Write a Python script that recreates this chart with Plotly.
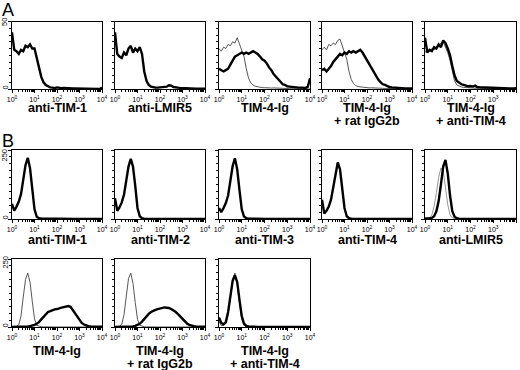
import plotly.graph_objects as go

# ---------------- data (x in decades: 10^d) ----------------
DECADES = [0.0, 0.1, 0.2, 0.3, 0.4, 0.5, 0.6, 0.7, 0.8, 0.9,
           1.0, 1.1, 1.2, 1.3, 1.4, 1.5, 1.6, 1.7, 1.8, 1.9,
           2.0, 2.1, 2.2, 2.3, 2.4, 2.5, 2.6, 2.7, 2.8, 2.9,
           3.0, 3.1, 3.2, 3.3, 3.4, 3.5, 3.6, 3.7, 3.8, 3.9, 4.0]

# Panel A (counts 0-50)
A1_THICK = [42, 29, 28, 26, 29, 28, 32, 31, 33, 30, 30, 24, 16, 9, 5, 3, 1.8, 1.2, 1, 0.7,
            1.2, 0.8, 0.6, 0.8, 0.6, 0.5, 0.6, 0.4, 0.5, 0.4, 0.3, 0.2, 0.1, 0, 0, 0, 0, 0, 0, 0, 1]
A2_THICK = [42, 26, 24, 23, 27, 25, 30, 32, 27, 30, 28, 31, 26, 13, 6, 3, 1.8, 1.2, 1, 1,
            1.2, 1, 1.3, 1.8, 2.8, 2.5, 1.5, 1.5, 1, 0.8, 0.8, 0.6, 0.5, 0.6, 0.4, 0.8, 0.3, 0.2, 0.2, 0.1, 0.3]
A3_THIN = [30, 28, 31, 30, 33, 32, 35, 34, 38, 33, 29, 24, 15, 8, 4.5, 2.8, 2, 1.5, 1.2, 1,
           1, 0.8, 0.8, 0.7, 0.8, 0.8, 0.6, 0.5, 0.5, 0.4, 0.3, 0.3, 0.2, 0.2, 0.1, 0, 0, 0, 0, 0, 0]
A3_THICK = [15, 14, 13, 14, 15, 18, 21, 24, 25, 26, 27, 26, 27, 26, 27, 28, 27, 26, 24, 22,
            21, 19, 16, 14, 11, 9, 7, 5, 3.5, 3, 2, 1.8, 1.5, 1.5, 1.2, 1, 1, 0.8, 0.8, 1.5, 8]
A4_THIN = [29, 31, 29, 33, 32, 34, 33, 36, 37, 32, 28, 22, 13, 7, 4, 2.5, 1.8, 1.5, 1.2, 1,
           1, 0.8, 0.9, 0.7, 0.7, 0.6, 0.6, 0.5, 0.4, 0.4, 0.3, 0.2, 0.2, 0.1, 0.1, 0, 0, 0, 0, 0, 0]
A4_THICK = [14, 15, 13, 15, 17, 20, 22, 24, 26, 25, 27, 26, 28, 27, 28, 27, 28, 29, 27, 24,
            21, 18, 15, 12, 9, 7, 5, 3.5, 3, 2, 1.5, 1.2, 1, 0.8, 0.7, 0.6, 0.5, 0.5, 0.4, 0.3, 0.5]
A5_THIN = [27, 29, 28, 30, 29, 31, 32, 34, 35, 31, 27, 21, 13, 6, 3, 2, 1.5, 1.2, 1, 0.8,
           0.8, 0.7, 0.6, 0.6, 0.5, 0.5, 0.4, 0.4, 0.3, 0.3, 0.3, 0.2, 0.2, 0.2, 0.1, 0.1, 0.1, 0.1, 0, 0, 0]
A5_THICK = [38, 27, 29, 28, 31, 30, 33, 31, 36, 34, 30, 25, 17, 10, 6, 4.5, 3.5, 3, 2.5, 2,
            2.2, 1.8, 2.5, 1.5, 1.3, 1.2, 1, 1, 0.9, 0.8, 0.7, 0.8, 0.6, 0.6, 0.5, 0.6, 0.5, 0.5, 0.4, 0.5, 0.6]

# Panel B (counts 0-250)
B1_THICK = [55, 30, 45, 62, 90, 140, 195, 222, 185, 110, 35, 8, 3, 2, 1.5, 1, 1, 1.5, 1, 1,
            1.5, 1, 1, 0.8, 0.5, 0.5, 0.3, 0, 0, 0, 0, 0, 0, 0, 0, 0, 0, 0, 0, 0, 0]
B2_THICK = [75, 30, 42, 60, 88, 135, 190, 218, 190, 120, 40, 10, 3, 1.5, 1, 1, 1, 0.8, 1, 0.8,
            0.5, 0.5, 0.5, 0.3, 0.3, 0.2, 0, 0, 0, 0, 0, 0, 0, 0, 0, 0, 0, 0, 0, 0, 0]
B3_THICK = [40, 25, 40, 58, 85, 135, 192, 220, 180, 105, 35, 9, 3, 1.5, 1, 1, 0.8, 0.8, 0.5, 0.5,
            0.3, 0.3, 0.2, 0, 0, 0, 0, 0, 0, 0, 0, 0, 0, 0, 0, 0, 0, 0, 0, 0, 0]
B4_THICK = [70, 20, 30, 45, 70, 115, 170, 205, 180, 110, 40, 10, 3, 1.5, 1, 0.8, 0.8, 0.5, 0.5, 0.3,
            0.3, 0.2, 0, 0, 0, 0, 0, 0, 0, 0, 0, 0, 0, 0, 0, 0, 0, 0, 0, 0, 0]
B5_THIN = [1, 2, 5, 15, 45, 95, 150, 185, 172, 115, 52, 15, 4, 1.5, 0.5, 0, 0, 0, 0, 0,
           0, 0, 0, 0, 0, 0, 0, 0, 0, 0, 0, 0, 0, 0, 0, 0, 0, 0, 0, 0, 0]
B5_THICK = [2, 1, 2, 4, 10, 28, 65, 125, 190, 214, 165, 85, 28, 8, 3, 1.5, 1, 0.8, 0.5, 0.5,
            0.3, 0, 0, 0, 0, 0, 0, 0, 0, 0, 0, 0, 0, 0, 0, 0, 0, 0, 0, 0, 0]
B6_THIN = [2, 1, 2, 8, 40, 110, 175, 198, 165, 95, 30, 6, 2, 1, 0.5, 0, 0, 0, 0, 0,
           0, 0, 0, 0, 0, 0, 0, 0, 0, 0, 0, 0, 0, 0, 0, 0, 0, 0, 0, 0, 0]
B6_THICK = [0, 0, 0, 0, 0, 0, 1, 2, 3, 5, 8, 12, 18, 28, 38, 48, 55, 58, 62, 65,
            66, 70, 71, 73, 76, 77, 74, 62, 48, 35, 24, 15, 9, 5, 3, 2, 2, 1.5, 1, 1, 1]
B7_THIN = [2, 1, 3, 10, 45, 115, 178, 198, 160, 90, 28, 6, 2, 1, 0.5, 0, 0, 0, 0, 0,
           0, 0, 0, 0, 0, 0, 0, 0, 0, 0, 0, 0, 0, 0, 0, 0, 0, 0, 0, 0, 0]
B7_THICK = [0, 0, 0, 0, 0, 0, 0, 1, 2, 4, 7, 12, 20, 30, 40, 48, 55, 60, 63, 66,
            68, 70, 72, 71, 70, 66, 62, 55, 47, 38, 28, 20, 13, 8, 4, 3, 2, 1.5, 1, 1, 1]
B8_THIN = [20, 5, 6, 12, 45, 110, 175, 198, 160, 90, 30, 8, 2, 1, 0.5, 0, 0, 0, 0, 0,
           0, 0, 0, 0, 0, 0, 0, 0, 0, 0, 0, 0, 0, 0, 0, 0, 0, 0, 0, 0, 0]
B8_THICK = [35, 15, 10, 18, 55, 115, 170, 190, 165, 100, 40, 12, 4, 2, 1, 1, 0.8, 0.5, 0.5, 0.3,
            0, 0, 0, 0, 0, 0, 0, 0, 0, 0, 0, 0, 0, 0, 0, 0, 0, 0, 0, 0, 0]

X_TICK_VALS = [1, 10, 100, 1000, 10000]
X_TICK_TEXT = ["10<sup>0</sup>", "10<sup>1</sup>", "10<sup>2</sup>", "10<sup>3</sup>", "10<sup>4</sup>"]
Y_MAX_A, Y_MAX_B = 50, 250

# ---------------- layout geometry (pixels) ----------------
W, H = 520, 370
FONT = "Liberation Sans, Arial, Helvetica, sans-serif"
COLS = [(12, 102), (115, 205), (219, 310), (322, 412), (425, 516)]
ROWS = [(21.5, 89), (150, 219), (259, 327)]
TITLE_Y = [(107.5, 120.5), (240, 253), (351, 364)]
YLAB_TOP_OFFSET = [1, 5, 3]

panels = [
    (0, 0, None, A1_THICK, ["anti-TIM-1"]),
    (0, 1, None, A2_THICK, ["anti-LMIR5"]),
    (0, 2, A3_THIN, A3_THICK, ["TIM-4-Ig"]),
    (0, 3, A4_THIN, A4_THICK, ["TIM-4-Ig", "+ rat IgG2b"]),
    (0, 4, A5_THIN, A5_THICK, ["TIM-4-Ig", "+ anti-TIM-4"]),
    (1, 0, None, B1_THICK, ["anti-TIM-1"]),
    (1, 1, None, B2_THICK, ["anti-TIM-2"]),
    (1, 2, None, B3_THICK, ["anti-TIM-3"]),
    (1, 3, None, B4_THICK, ["anti-TIM-4"]),
    (1, 4, B5_THIN, B5_THICK, ["anti-LMIR5"]),
    (2, 0, B6_THIN, B6_THICK, ["TIM-4-Ig"]),
    (2, 1, B7_THIN, B7_THICK, ["TIM-4-Ig", "+ rat IgG2b"]),
    (2, 2, B8_THIN, B8_THICK, ["TIM-4-Ig", "+ anti-TIM-4"]),
]

minor_x = [m * 10 ** e for e in range(4) for m in range(2, 10)]
xvals = [10 ** d for d in DECADES]

fig = go.Figure()
annotations = []
for i, (r, c, thin, thick, title) in enumerate(panels):
    n = i + 1
    xs = "" if n == 1 else str(n)
    x0, x1 = COLS[c]
    y0, y1 = ROWS[r]
    ymax = Y_MAX_A if r == 0 else Y_MAX_B
    thin_color = "#8a8a8a" if (r == 1 and c == 4) else "#444444"
    if thin is not None:
        fig.add_trace(go.Scatter(x=xvals, y=thin, mode="lines", xaxis="x" + xs, yaxis="y" + xs,
                                 line=dict(color=thin_color, width=0.9), hoverinfo="skip"))
    fig.add_trace(go.Scatter(x=xvals, y=thick, mode="lines", xaxis="x" + xs, yaxis="y" + xs,
                             line=dict(color="black", width=2.4), hoverinfo="skip"))
    fig.layout["xaxis" + xs] = dict(
        type="log", range=[0, 4], domain=[x0 / W, x1 / W], anchor="y" + xs,
        showline=True, mirror=True, linecolor="black", linewidth=1.3,
        ticks="outside", ticklen=3, tickwidth=1, tickcolor="black",
        tickvals=X_TICK_VALS, ticktext=X_TICK_TEXT,
        tickfont=dict(family=FONT, size=7, color="black"),
        minor=dict(tickvals=minor_x, ticks="outside", ticklen=2, tickcolor="black", showgrid=False),
        showgrid=False, zeroline=False, automargin=False, fixedrange=True)
    fig.layout["yaxis" + xs] = dict(
        range=[0, ymax], domain=[1 - y1 / H, 1 - y0 / H], anchor="x" + xs,
        showline=True, mirror=True, linecolor="black", linewidth=1.3,
        ticks="outside", ticklen=3, tickwidth=1, tickcolor="black",
        tickvals=[0, ymax], showticklabels=False,
        minor=dict(dtick=ymax / 10, ticks="outside", ticklen=2, tickcolor="black", showgrid=False),
        showgrid=False, zeroline=False, automargin=False, fixedrange=True)
    xc = (x0 + x1) / 2 / W
    for k, line in enumerate(title):
        annotations.append(dict(text="<b>" + line + "</b>", x=xc, y=1 - TITLE_Y[r][k] / H,
                                xref="paper", yref="paper", xanchor="center", yanchor="middle",
                                showarrow=False, font=dict(family=FONT, size=12.5, color="black")))
    if c == 0:
        # rotated y tick labels (0 and max) at the left edge
        for val, ypx in ((str(ymax), y0 + YLAB_TOP_OFFSET[r]), ("0", y1 - 1)):
            annotations.append(dict(text=val, x=4.5 / W, y=1 - ypx / H, xref="paper", yref="paper",
                                    xanchor="center", yanchor="middle", textangle=-90,
                                    showarrow=False, font=dict(family=FONT, size=7.5, color="black")))

annotations.append(dict(text="A", x=0, y=1 + 2 / H, xref="paper", yref="paper",
                        xanchor="left", yanchor="top", showarrow=False,
                        font=dict(family=FONT, size=18, color="black")))
annotations.append(dict(text="B", x=0, y=1 - 129 / H, xref="paper", yref="paper",
                        xanchor="left", yanchor="top", showarrow=False,
                        font=dict(family=FONT, size=18, color="black")))

fig.update_layout(width=W, height=H, margin=dict(l=0, r=0, t=0, b=0),
                  plot_bgcolor="white", paper_bgcolor="white", showlegend=False,
                  annotations=annotations)
fig.write_html("out.html", config={"displayModeBar": False},
               post_script="document.body.style.margin='0';document.body.style.overflow='hidden';")
